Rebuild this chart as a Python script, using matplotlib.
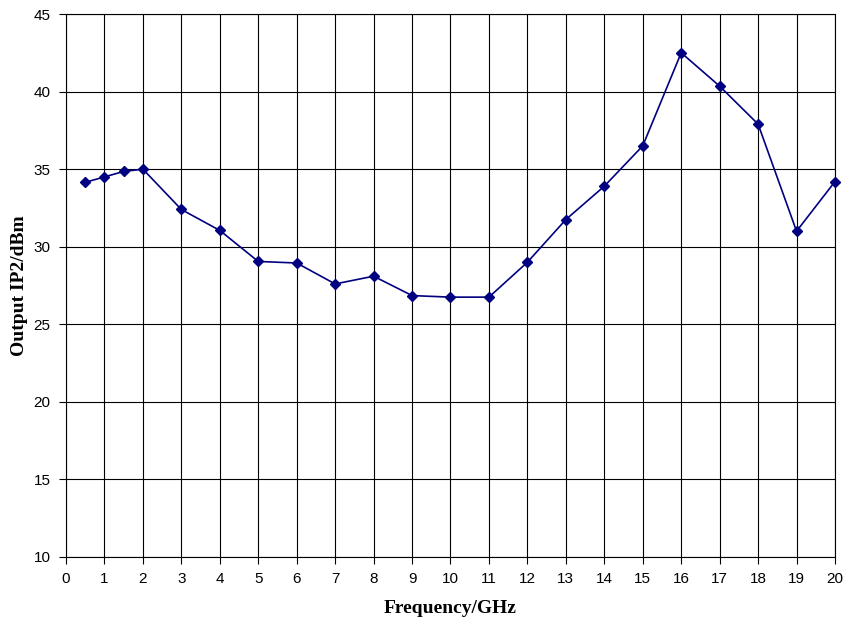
import matplotlib
matplotlib.use("Agg")
import matplotlib.pyplot as plt
import numpy as np

freq = [0.5, 1, 1.5, 2, 3, 4, 5, 6, 7, 8, 9, 10, 11, 12, 13, 14, 15, 16, 17, 18, 19, 20]
oip2 = [34.15, 34.5, 34.85, 35.0, 32.4, 31.05, 29.05, 28.95, 27.6, 28.1, 26.85, 26.75,
        26.75, 29.0, 31.75, 33.9, 36.5, 42.5, 40.35, 37.9, 31.0, 34.2]

xticks = np.arange(0, 21, 1)
yticks = np.arange(10, 46, 5)

fig = plt.figure(figsize=(8.53, 6.22), dpi=100)
ax = fig.add_axes([66 / 853, 1 - 557 / 622, (835 - 66) / 853, (557 - 14) / 622])

ax.plot(freq, oip2, color="#000080", linewidth=1.2, marker="D", markersize=5,
        markerfacecolor="#000080", markeredgecolor="#000080", zorder=3, clip_on=False)

ax.set_xlim(0, 20)
ax.set_ylim(10, 45)
ax.set_xticks(xticks)
ax.set_yticks(yticks)
ax.grid(True, color="black", linewidth=0.8)
ax.tick_params(direction="out", length=5, width=0.8, labelsize=11, pad=6)
for lab in ax.get_xticklabels() + ax.get_yticklabels():
    lab.set_family("Liberation Sans")
for sp in ax.spines.values():
    sp.set_color("black")
    sp.set_linewidth(0.8)

ax.set_xlabel("Frequency/GHz", fontsize=14, fontweight="bold", family="Liberation Serif", labelpad=10)
ax.set_ylabel("Output IP2/dBm", fontsize=14, fontweight="bold", family="Liberation Serif", labelpad=4)

fig.savefig("out.png", dpi=100)
